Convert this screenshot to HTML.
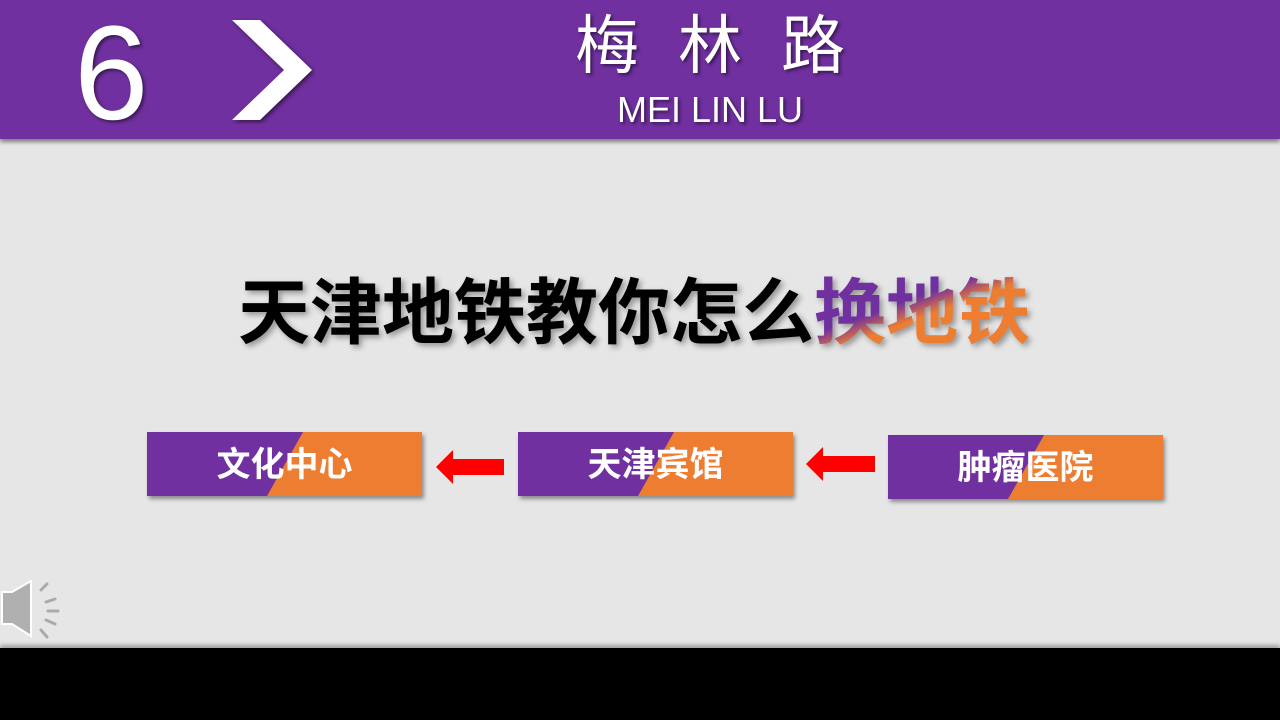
<!DOCTYPE html>
<html><head><meta charset="utf-8"><style>
body{margin:0;width:1280px;height:720px;background:#e6e6e6;position:relative;overflow:hidden;font-family:"Liberation Sans","Noto Sans CJK SC",sans-serif}
.hdr{position:absolute;left:0;top:0;width:1280px;height:139px;background:#7030a0;box-shadow:0 3px 4px rgba(0,0,0,.45)}
.t{position:absolute;color:#fff;text-shadow:2px 2px 3px rgba(0,0,0,.5);white-space:nowrap}
.box{position:absolute;width:275px;height:64px;box-shadow:2px 3px 4px rgba(0,0,0,.4);color:#fff;font-size:34px;font-weight:bold;text-align:center;line-height:66px}
.bot{position:absolute;left:0;top:648px;width:1280px;height:72px;background:#000;box-shadow:0 -3px 4px rgba(0,0,0,.3)}
</style></head><body>
<div class="hdr"></div>
<div class="t" style="left:74px;top:4px;font-size:134px;line-height:140px;font-family:'Liberation Sans',sans-serif">6</div>
<svg style="position:absolute;left:228px;top:18px" width="90" height="106"><polygon points="4,2 32,2 84,52 32,102 4,102 56,52" fill="#fff" style="filter:drop-shadow(2px 2px 2px rgba(0,0,0,.5))"/></svg>
<div class="t" style="left:575px;top:8px;font-size:64px;line-height:76px">梅</div>
<div class="t" style="left:678px;top:8px;font-size:64px;line-height:76px">林</div>
<div class="t" style="left:781px;top:8px;font-size:64px;line-height:76px">路</div>
<div class="t" style="left:560px;top:88px;width:300px;text-align:center;font-size:36px;line-height:44px">MEI LIN LU</div>
<div style="position:absolute;left:-6px;top:272px;width:1280px;text-align:center;font-size:72px;font-weight:bold;line-height:84px;white-space:nowrap;filter:drop-shadow(3px 3px 3px rgba(0,0,0,.35))">天津地铁教你怎么<span style="background:linear-gradient(160deg,#7030a0 38%,#ed7d31 52%);-webkit-background-clip:text;background-clip:text;color:transparent">换地铁</span></div>
<div class="box" style="left:147px;top:432px"><svg style="position:absolute;left:0;top:0" width="275" height="64"><rect width="275" height="64" fill="#ed7d31"/><polygon points="0,0 156,0 120,64 0,64" fill="#7030a0"/></svg><span style="position:relative">文化中心</span></div>
<div class="box" style="left:518px;top:432px"><svg style="position:absolute;left:0;top:0" width="275" height="64"><rect width="275" height="64" fill="#ed7d31"/><polygon points="0,0 156,0 120,64 0,64" fill="#7030a0"/></svg><span style="position:relative">天津宾馆</span></div>
<div class="box" style="left:888px;top:435px"><svg style="position:absolute;left:0;top:0" width="275" height="64"><rect width="275" height="64" fill="#ed7d31"/><polygon points="0,0 156,0 120,64 0,64" fill="#7030a0"/></svg><span style="position:relative">肿瘤医院</span></div>
<svg style="position:absolute;left:436px;top:449px" width="70" height="36"><polygon points="0,18 17,1 17,10 68,10 68,26 17,26 17,35" fill="#ff0000"/></svg>
<svg style="position:absolute;left:806px;top:447px" width="70" height="36"><polygon points="0,17 17,0 17,9 69,9 69,25 17,25 17,34" fill="#ff0000"/></svg>
<svg style="position:absolute;left:0;top:580px" width="64" height="60"><polygon points="2,12 12,12 31,1 31,56 12,44 2,44" fill="#b0b0b0" stroke="#fff" stroke-width="2"/><g stroke="#aaa" stroke-width="3" stroke-linecap="round"><line x1="41" y1="10" x2="47" y2="4"/><line x1="46" y1="22" x2="55" y2="19"/><line x1="48" y1="31" x2="58" y2="31"/><line x1="46" y1="40" x2="55" y2="44"/><line x1="41" y1="50" x2="47" y2="57"/></g></svg>
<div class="bot"></div>
</body></html>
